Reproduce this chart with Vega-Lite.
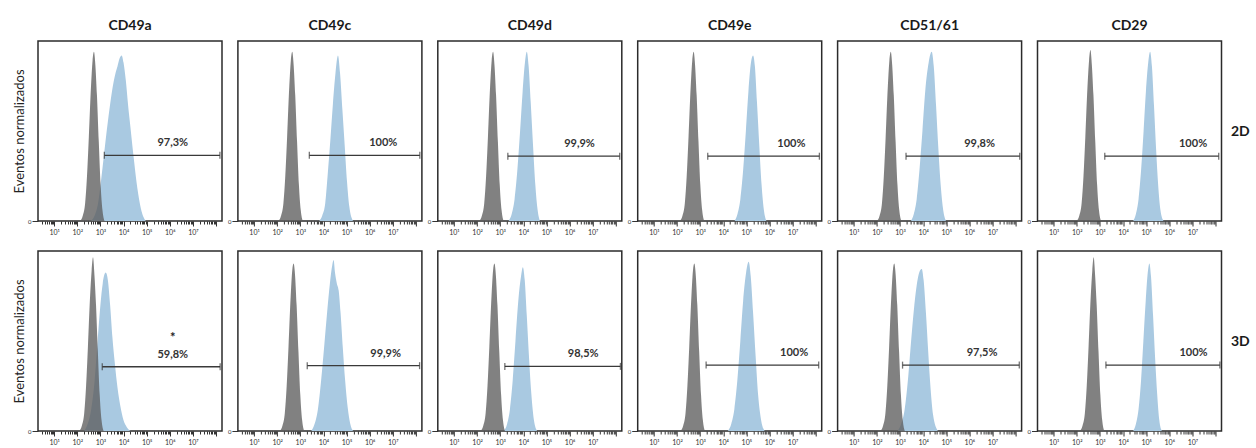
{
"$schema":"https://vega.github.io/schema/vega-lite/v6.json",
"background":"white",
"padding":{"left":12,"top":18,"right":5,"bottom":0},
"config":{
 "view":{"stroke":"#2b2b2b","strokeWidth":1.5},
 "axis":{"grid":false,"domain":false,"labelFont":"Lato","titleFont":"Lato","tickColor":"#333","labelColor":"#333","tickWidth":1},
 "axisX":{"labelFontSize":7,"labelPadding":2,"labelOverlap":false,"labelFlush":false,"labelBound":false},
 "axisY":{"labelFontSize":6,"labelPadding":1,"tickSize":6,"titleFontSize":13,"titleFontWeight":"normal","titleColor":"#222","titlePadding":1},
 "title":{"font":"Lato","fontSize":14,"fontWeight":"bold","color":"#1a1a1a"}
},
"data":{"values":[
{"m":"CD49a","c":"2D","s":"g","x":2.12,"y":0},{"m":"CD49a","c":"2D","s":"g","x":2.24,"y":3},{"m":"CD49a","c":"2D","s":"g","x":2.34,"y":10},{"m":"CD49a","c":"2D","s":"g","x":2.42,"y":25},{"m":"CD49a","c":"2D","s":"g","x":2.50,"y":47},{"m":"CD49a","c":"2D","s":"g","x":2.59,"y":74},{"m":"CD49a","c":"2D","s":"g","x":2.66,"y":89},{"m":"CD49a","c":"2D","s":"g","x":2.72,"y":94},{"m":"CD49a","c":"2D","s":"g","x":2.78,"y":87},{"m":"CD49a","c":"2D","s":"g","x":2.85,"y":70},{"m":"CD49a","c":"2D","s":"g","x":2.93,"y":44},{"m":"CD49a","c":"2D","s":"g","x":3.01,"y":20},{"m":"CD49a","c":"2D","s":"g","x":3.09,"y":6},{"m":"CD49a","c":"2D","s":"g","x":3.18,"y":0},
{"m":"CD49a","c":"2D","s":"b","x":2.57,"y":0},{"m":"CD49a","c":"2D","s":"b","x":2.75,"y":3},{"m":"CD49a","c":"2D","s":"b","x":2.9,"y":10},{"m":"CD49a","c":"2D","s":"b","x":3.05,"y":25},{"m":"CD49a","c":"2D","s":"b","x":3.2,"y":42},{"m":"CD49a","c":"2D","s":"b","x":3.35,"y":58},{"m":"CD49a","c":"2D","s":"b","x":3.5,"y":72},{"m":"CD49a","c":"2D","s":"b","x":3.65,"y":82},{"m":"CD49a","c":"2D","s":"b","x":3.74,"y":86},{"m":"CD49a","c":"2D","s":"b","x":3.82,"y":90},{"m":"CD49a","c":"2D","s":"b","x":3.92,"y":92},{"m":"CD49a","c":"2D","s":"b","x":4.0,"y":88},{"m":"CD49a","c":"2D","s":"b","x":4.1,"y":78},{"m":"CD49a","c":"2D","s":"b","x":4.2,"y":64},{"m":"CD49a","c":"2D","s":"b","x":4.3,"y":52},{"m":"CD49a","c":"2D","s":"b","x":4.45,"y":34},{"m":"CD49a","c":"2D","s":"b","x":4.6,"y":18},{"m":"CD49a","c":"2D","s":"b","x":4.75,"y":7},{"m":"CD49a","c":"2D","s":"b","x":4.96,"y":0},
{"m":"CD49a","c":"2D","s":"gate","x":3.17,"x2":8.17,"y":36.5},{"m":"CD49a","c":"2D","s":"cap","x":3.17,"y":36.5},{"m":"CD49a","c":"2D","s":"cap","x":8.17,"y":36.5},{"m":"CD49a","c":"2D","s":"lab","x":6.13,"y":36.5,"t":"97,3%"},

{"m":"CD49c","c":"2D","s":"g","x":2.05,"y":0},{"m":"CD49c","c":"2D","s":"g","x":2.17,"y":3},{"m":"CD49c","c":"2D","s":"g","x":2.27,"y":10},{"m":"CD49c","c":"2D","s":"g","x":2.35,"y":25},{"m":"CD49c","c":"2D","s":"g","x":2.43,"y":47},{"m":"CD49c","c":"2D","s":"g","x":2.52,"y":74},{"m":"CD49c","c":"2D","s":"g","x":2.59,"y":89},{"m":"CD49c","c":"2D","s":"g","x":2.65,"y":94},{"m":"CD49c","c":"2D","s":"g","x":2.71,"y":87},{"m":"CD49c","c":"2D","s":"g","x":2.78,"y":70},{"m":"CD49c","c":"2D","s":"g","x":2.86,"y":44},{"m":"CD49c","c":"2D","s":"g","x":2.94,"y":20},{"m":"CD49c","c":"2D","s":"g","x":3.02,"y":6},{"m":"CD49c","c":"2D","s":"g","x":3.11,"y":0},
{"m":"CD49c","c":"2D","s":"b","x":3.82,"y":0},{"m":"CD49c","c":"2D","s":"b","x":3.95,"y":3},{"m":"CD49c","c":"2D","s":"b","x":4.08,"y":10},{"m":"CD49c","c":"2D","s":"b","x":4.18,"y":25},{"m":"CD49c","c":"2D","s":"b","x":4.3,"y":45},{"m":"CD49c","c":"2D","s":"b","x":4.41,"y":65},{"m":"CD49c","c":"2D","s":"b","x":4.52,"y":82},{"m":"CD49c","c":"2D","s":"b","x":4.63,"y":92},{"m":"CD49c","c":"2D","s":"b","x":4.72,"y":82},{"m":"CD49c","c":"2D","s":"b","x":4.82,"y":62},{"m":"CD49c","c":"2D","s":"b","x":4.92,"y":42},{"m":"CD49c","c":"2D","s":"b","x":5.02,"y":22},{"m":"CD49c","c":"2D","s":"b","x":5.12,"y":8},{"m":"CD49c","c":"2D","s":"b","x":5.28,"y":0},
{"m":"CD49c","c":"2D","s":"gate","x":3.39,"x2":8.17,"y":36.5},{"m":"CD49c","c":"2D","s":"cap","x":3.39,"y":36.5},{"m":"CD49c","c":"2D","s":"cap","x":8.17,"y":36.5},{"m":"CD49c","c":"2D","s":"lab","x":6.59,"y":36.5,"t":"100%"},

{"m":"CD49d","c":"2D","s":"g","x":2.09,"y":0},{"m":"CD49d","c":"2D","s":"g","x":2.21,"y":3},{"m":"CD49d","c":"2D","s":"g","x":2.31,"y":10},{"m":"CD49d","c":"2D","s":"g","x":2.39,"y":25},{"m":"CD49d","c":"2D","s":"g","x":2.47,"y":47},{"m":"CD49d","c":"2D","s":"g","x":2.56,"y":74},{"m":"CD49d","c":"2D","s":"g","x":2.63,"y":89},{"m":"CD49d","c":"2D","s":"g","x":2.69,"y":94},{"m":"CD49d","c":"2D","s":"g","x":2.75,"y":87},{"m":"CD49d","c":"2D","s":"g","x":2.82,"y":70},{"m":"CD49d","c":"2D","s":"g","x":2.90,"y":44},{"m":"CD49d","c":"2D","s":"g","x":2.98,"y":20},{"m":"CD49d","c":"2D","s":"g","x":3.06,"y":6},{"m":"CD49d","c":"2D","s":"g","x":3.15,"y":0},
{"m":"CD49d","c":"2D","s":"b","x":3.36,"y":0},{"m":"CD49d","c":"2D","s":"b","x":3.5,"y":4},{"m":"CD49d","c":"2D","s":"b","x":3.62,"y":12},{"m":"CD49d","c":"2D","s":"b","x":3.74,"y":28},{"m":"CD49d","c":"2D","s":"b","x":3.86,"y":50},{"m":"CD49d","c":"2D","s":"b","x":3.97,"y":72},{"m":"CD49d","c":"2D","s":"b","x":4.07,"y":88},{"m":"CD49d","c":"2D","s":"b","x":4.15,"y":94},{"m":"CD49d","c":"2D","s":"b","x":4.23,"y":86},{"m":"CD49d","c":"2D","s":"b","x":4.32,"y":66},{"m":"CD49d","c":"2D","s":"b","x":4.42,"y":42},{"m":"CD49d","c":"2D","s":"b","x":4.52,"y":20},{"m":"CD49d","c":"2D","s":"b","x":4.62,"y":6},{"m":"CD49d","c":"2D","s":"b","x":4.72,"y":0},
{"m":"CD49d","c":"2D","s":"gate","x":3.33,"x2":8.17,"y":36},{"m":"CD49d","c":"2D","s":"cap","x":3.33,"y":36},{"m":"CD49d","c":"2D","s":"cap","x":8.17,"y":36},{"m":"CD49d","c":"2D","s":"lab","x":6.43,"y":36,"t":"99,9%"},

{"m":"CD49e","c":"2D","s":"g","x":2.12,"y":0},{"m":"CD49e","c":"2D","s":"g","x":2.24,"y":3},{"m":"CD49e","c":"2D","s":"g","x":2.34,"y":10},{"m":"CD49e","c":"2D","s":"g","x":2.42,"y":25},{"m":"CD49e","c":"2D","s":"g","x":2.50,"y":47},{"m":"CD49e","c":"2D","s":"g","x":2.59,"y":74},{"m":"CD49e","c":"2D","s":"g","x":2.66,"y":89},{"m":"CD49e","c":"2D","s":"g","x":2.72,"y":94},{"m":"CD49e","c":"2D","s":"g","x":2.78,"y":87},{"m":"CD49e","c":"2D","s":"g","x":2.85,"y":70},{"m":"CD49e","c":"2D","s":"g","x":2.93,"y":44},{"m":"CD49e","c":"2D","s":"g","x":3.01,"y":20},{"m":"CD49e","c":"2D","s":"g","x":3.09,"y":6},{"m":"CD49e","c":"2D","s":"g","x":3.18,"y":0},
{"m":"CD49e","c":"2D","s":"b","x":4.49,"y":0},{"m":"CD49e","c":"2D","s":"b","x":4.62,"y":4},{"m":"CD49e","c":"2D","s":"b","x":4.74,"y":12},{"m":"CD49e","c":"2D","s":"b","x":4.86,"y":28},{"m":"CD49e","c":"2D","s":"b","x":4.98,"y":50},{"m":"CD49e","c":"2D","s":"b","x":5.09,"y":72},{"m":"CD49e","c":"2D","s":"b","x":5.2,"y":88},{"m":"CD49e","c":"2D","s":"b","x":5.29,"y":92},{"m":"CD49e","c":"2D","s":"b","x":5.37,"y":86},{"m":"CD49e","c":"2D","s":"b","x":5.46,"y":66},{"m":"CD49e","c":"2D","s":"b","x":5.56,"y":42},{"m":"CD49e","c":"2D","s":"b","x":5.66,"y":20},{"m":"CD49e","c":"2D","s":"b","x":5.76,"y":6},{"m":"CD49e","c":"2D","s":"b","x":5.87,"y":0},
{"m":"CD49e","c":"2D","s":"gate","x":3.33,"x2":8.16,"y":36},{"m":"CD49e","c":"2D","s":"cap","x":3.33,"y":36},{"m":"CD49e","c":"2D","s":"cap","x":8.16,"y":36},{"m":"CD49e","c":"2D","s":"lab","x":6.95,"y":36,"t":"100%"},

{"m":"CD51/61","c":"2D","s":"g","x":2.00,"y":0},{"m":"CD51/61","c":"2D","s":"g","x":2.12,"y":3},{"m":"CD51/61","c":"2D","s":"g","x":2.22,"y":10},{"m":"CD51/61","c":"2D","s":"g","x":2.30,"y":25},{"m":"CD51/61","c":"2D","s":"g","x":2.38,"y":47},{"m":"CD51/61","c":"2D","s":"g","x":2.47,"y":74},{"m":"CD51/61","c":"2D","s":"g","x":2.54,"y":89},{"m":"CD51/61","c":"2D","s":"g","x":2.60,"y":94},{"m":"CD51/61","c":"2D","s":"g","x":2.66,"y":87},{"m":"CD51/61","c":"2D","s":"g","x":2.73,"y":70},{"m":"CD51/61","c":"2D","s":"g","x":2.81,"y":44},{"m":"CD51/61","c":"2D","s":"g","x":2.89,"y":20},{"m":"CD51/61","c":"2D","s":"g","x":2.97,"y":6},{"m":"CD51/61","c":"2D","s":"g","x":3.06,"y":0},
{"m":"CD51/61","c":"2D","s":"b","x":3.47,"y":0},{"m":"CD51/61","c":"2D","s":"b","x":3.6,"y":4},{"m":"CD51/61","c":"2D","s":"b","x":3.72,"y":12},{"m":"CD51/61","c":"2D","s":"b","x":3.84,"y":28},{"m":"CD51/61","c":"2D","s":"b","x":3.97,"y":50},{"m":"CD51/61","c":"2D","s":"b","x":4.09,"y":72},{"m":"CD51/61","c":"2D","s":"b","x":4.24,"y":88},{"m":"CD51/61","c":"2D","s":"b","x":4.37,"y":94},{"m":"CD51/61","c":"2D","s":"b","x":4.46,"y":86},{"m":"CD51/61","c":"2D","s":"b","x":4.56,"y":64},{"m":"CD51/61","c":"2D","s":"b","x":4.66,"y":40},{"m":"CD51/61","c":"2D","s":"b","x":4.76,"y":20},{"m":"CD51/61","c":"2D","s":"b","x":4.87,"y":6},{"m":"CD51/61","c":"2D","s":"b","x":4.99,"y":0},
{"m":"CD51/61","c":"2D","s":"gate","x":3.26,"x2":8.18,"y":36},{"m":"CD51/61","c":"2D","s":"cap","x":3.26,"y":36},{"m":"CD51/61","c":"2D","s":"cap","x":8.18,"y":36},{"m":"CD51/61","c":"2D","s":"lab","x":6.44,"y":36,"t":"99,8%"},

{"m":"CD29","c":"2D","s":"g","x":1.99,"y":0},{"m":"CD29","c":"2D","s":"g","x":2.11,"y":3},{"m":"CD29","c":"2D","s":"g","x":2.21,"y":10},{"m":"CD29","c":"2D","s":"g","x":2.29,"y":25},{"m":"CD29","c":"2D","s":"g","x":2.37,"y":47},{"m":"CD29","c":"2D","s":"g","x":2.46,"y":74},{"m":"CD29","c":"2D","s":"g","x":2.53,"y":89},{"m":"CD29","c":"2D","s":"g","x":2.59,"y":95},{"m":"CD29","c":"2D","s":"g","x":2.65,"y":87},{"m":"CD29","c":"2D","s":"g","x":2.72,"y":70},{"m":"CD29","c":"2D","s":"g","x":2.80,"y":44},{"m":"CD29","c":"2D","s":"g","x":2.88,"y":20},{"m":"CD29","c":"2D","s":"g","x":2.96,"y":6},{"m":"CD29","c":"2D","s":"g","x":3.05,"y":0},
{"m":"CD29","c":"2D","s":"b","x":4.44,"y":0},{"m":"CD29","c":"2D","s":"b","x":4.56,"y":4},{"m":"CD29","c":"2D","s":"b","x":4.67,"y":12},{"m":"CD29","c":"2D","s":"b","x":4.78,"y":28},{"m":"CD29","c":"2D","s":"b","x":4.89,"y":50},{"m":"CD29","c":"2D","s":"b","x":4.99,"y":72},{"m":"CD29","c":"2D","s":"b","x":5.09,"y":88},{"m":"CD29","c":"2D","s":"b","x":5.17,"y":94},{"m":"CD29","c":"2D","s":"b","x":5.25,"y":86},{"m":"CD29","c":"2D","s":"b","x":5.34,"y":64},{"m":"CD29","c":"2D","s":"b","x":5.43,"y":40},{"m":"CD29","c":"2D","s":"b","x":5.52,"y":20},{"m":"CD29","c":"2D","s":"b","x":5.62,"y":6},{"m":"CD29","c":"2D","s":"b","x":5.75,"y":0},
{"m":"CD29","c":"2D","s":"gate","x":3.21,"x2":8.14,"y":36},{"m":"CD29","c":"2D","s":"cap","x":3.21,"y":36},{"m":"CD29","c":"2D","s":"cap","x":8.14,"y":36},{"m":"CD29","c":"2D","s":"lab","x":7.03,"y":36,"t":"100%"},

{"m":"CD49a","c":"3D","s":"g","x":2.08,"y":0},{"m":"CD49a","c":"3D","s":"g","x":2.20,"y":3},{"m":"CD49a","c":"3D","s":"g","x":2.30,"y":10},{"m":"CD49a","c":"3D","s":"g","x":2.38,"y":25},{"m":"CD49a","c":"3D","s":"g","x":2.46,"y":47},{"m":"CD49a","c":"3D","s":"g","x":2.55,"y":74},{"m":"CD49a","c":"3D","s":"g","x":2.62,"y":89},{"m":"CD49a","c":"3D","s":"g","x":2.68,"y":96.5},{"m":"CD49a","c":"3D","s":"g","x":2.74,"y":87},{"m":"CD49a","c":"3D","s":"g","x":2.81,"y":70},{"m":"CD49a","c":"3D","s":"g","x":2.89,"y":44},{"m":"CD49a","c":"3D","s":"g","x":2.97,"y":20},{"m":"CD49a","c":"3D","s":"g","x":3.05,"y":6},{"m":"CD49a","c":"3D","s":"g","x":3.14,"y":0},
{"m":"CD49a","c":"3D","s":"b","x":2.29,"y":0},{"m":"CD49a","c":"3D","s":"b","x":2.45,"y":4},{"m":"CD49a","c":"3D","s":"b","x":2.6,"y":12},{"m":"CD49a","c":"3D","s":"b","x":2.75,"y":28},{"m":"CD49a","c":"3D","s":"b","x":2.88,"y":50},{"m":"CD49a","c":"3D","s":"b","x":3.0,"y":70},{"m":"CD49a","c":"3D","s":"b","x":3.1,"y":82},{"m":"CD49a","c":"3D","s":"b","x":3.23,"y":88},{"m":"CD49a","c":"3D","s":"b","x":3.32,"y":84},{"m":"CD49a","c":"3D","s":"b","x":3.42,"y":70},{"m":"CD49a","c":"3D","s":"b","x":3.52,"y":52},{"m":"CD49a","c":"3D","s":"b","x":3.62,"y":38},{"m":"CD49a","c":"3D","s":"b","x":3.74,"y":24},{"m":"CD49a","c":"3D","s":"b","x":3.86,"y":14},{"m":"CD49a","c":"3D","s":"b","x":4.0,"y":6},{"m":"CD49a","c":"3D","s":"b","x":4.15,"y":2},{"m":"CD49a","c":"3D","s":"b","x":4.31,"y":0},
{"m":"CD49a","c":"3D","s":"gate","x":3.08,"x2":8.18,"y":35.7},{"m":"CD49a","c":"3D","s":"cap","x":3.08,"y":35.7},{"m":"CD49a","c":"3D","s":"cap","x":8.18,"y":35.7},{"m":"CD49a","c":"3D","s":"lab","x":6.13,"y":35.7,"t":"59,8%"},{"m":"CD49a","c":"3D","s":"star","x":6.13,"y":53,"t":"*"},

{"m":"CD49c","c":"3D","s":"g","x":2.11,"y":0},{"m":"CD49c","c":"3D","s":"g","x":2.23,"y":3},{"m":"CD49c","c":"3D","s":"g","x":2.33,"y":10},{"m":"CD49c","c":"3D","s":"g","x":2.41,"y":25},{"m":"CD49c","c":"3D","s":"g","x":2.49,"y":47},{"m":"CD49c","c":"3D","s":"g","x":2.58,"y":74},{"m":"CD49c","c":"3D","s":"g","x":2.65,"y":89},{"m":"CD49c","c":"3D","s":"g","x":2.71,"y":93},{"m":"CD49c","c":"3D","s":"g","x":2.77,"y":87},{"m":"CD49c","c":"3D","s":"g","x":2.84,"y":70},{"m":"CD49c","c":"3D","s":"g","x":2.92,"y":44},{"m":"CD49c","c":"3D","s":"g","x":3.00,"y":20},{"m":"CD49c","c":"3D","s":"g","x":3.08,"y":6},{"m":"CD49c","c":"3D","s":"g","x":3.17,"y":0},
{"m":"CD49c","c":"3D","s":"b","x":3.47,"y":0},{"m":"CD49c","c":"3D","s":"b","x":3.62,"y":4},{"m":"CD49c","c":"3D","s":"b","x":3.76,"y":12},{"m":"CD49c","c":"3D","s":"b","x":3.9,"y":28},{"m":"CD49c","c":"3D","s":"b","x":4.04,"y":48},{"m":"CD49c","c":"3D","s":"b","x":4.16,"y":66},{"m":"CD49c","c":"3D","s":"b","x":4.28,"y":82},{"m":"CD49c","c":"3D","s":"b","x":4.38,"y":92},{"m":"CD49c","c":"3D","s":"b","x":4.44,"y":95},{"m":"CD49c","c":"3D","s":"b","x":4.5,"y":88},{"m":"CD49c","c":"3D","s":"b","x":4.58,"y":82},{"m":"CD49c","c":"3D","s":"b","x":4.66,"y":78},{"m":"CD49c","c":"3D","s":"b","x":4.74,"y":66},{"m":"CD49c","c":"3D","s":"b","x":4.84,"y":46},{"m":"CD49c","c":"3D","s":"b","x":4.94,"y":28},{"m":"CD49c","c":"3D","s":"b","x":5.05,"y":13},{"m":"CD49c","c":"3D","s":"b","x":5.16,"y":4},{"m":"CD49c","c":"3D","s":"b","x":5.28,"y":0},
{"m":"CD49c","c":"3D","s":"gate","x":3.30,"x2":8.16,"y":36.3},{"m":"CD49c","c":"3D","s":"cap","x":3.30,"y":36.3},{"m":"CD49c","c":"3D","s":"cap","x":8.16,"y":36.3},{"m":"CD49c","c":"3D","s":"lab","x":6.69,"y":36.3,"t":"99,9%"},

{"m":"CD49d","c":"3D","s":"g","x":2.15,"y":0},{"m":"CD49d","c":"3D","s":"g","x":2.27,"y":3},{"m":"CD49d","c":"3D","s":"g","x":2.37,"y":10},{"m":"CD49d","c":"3D","s":"g","x":2.45,"y":25},{"m":"CD49d","c":"3D","s":"g","x":2.53,"y":47},{"m":"CD49d","c":"3D","s":"g","x":2.62,"y":74},{"m":"CD49d","c":"3D","s":"g","x":2.69,"y":89},{"m":"CD49d","c":"3D","s":"g","x":2.75,"y":93},{"m":"CD49d","c":"3D","s":"g","x":2.81,"y":87},{"m":"CD49d","c":"3D","s":"g","x":2.88,"y":70},{"m":"CD49d","c":"3D","s":"g","x":2.96,"y":44},{"m":"CD49d","c":"3D","s":"g","x":3.04,"y":20},{"m":"CD49d","c":"3D","s":"g","x":3.12,"y":6},{"m":"CD49d","c":"3D","s":"g","x":3.21,"y":0},
{"m":"CD49d","c":"3D","s":"b","x":3.16,"y":0},{"m":"CD49d","c":"3D","s":"b","x":3.3,"y":4},{"m":"CD49d","c":"3D","s":"b","x":3.42,"y":12},{"m":"CD49d","c":"3D","s":"b","x":3.54,"y":28},{"m":"CD49d","c":"3D","s":"b","x":3.66,"y":50},{"m":"CD49d","c":"3D","s":"b","x":3.78,"y":72},{"m":"CD49d","c":"3D","s":"b","x":3.9,"y":86},{"m":"CD49d","c":"3D","s":"b","x":3.98,"y":91},{"m":"CD49d","c":"3D","s":"b","x":4.06,"y":84},{"m":"CD49d","c":"3D","s":"b","x":4.15,"y":64},{"m":"CD49d","c":"3D","s":"b","x":4.25,"y":40},{"m":"CD49d","c":"3D","s":"b","x":4.35,"y":20},{"m":"CD49d","c":"3D","s":"b","x":4.46,"y":6},{"m":"CD49d","c":"3D","s":"b","x":4.6,"y":0},
{"m":"CD49d","c":"3D","s":"gate","x":3.20,"x2":8.20,"y":35.9},{"m":"CD49d","c":"3D","s":"cap","x":3.20,"y":35.9},{"m":"CD49d","c":"3D","s":"cap","x":8.20,"y":35.9},{"m":"CD49d","c":"3D","s":"lab","x":6.59,"y":35.9,"t":"98,5%"},

{"m":"CD49e","c":"3D","s":"g","x":2.15,"y":0},{"m":"CD49e","c":"3D","s":"g","x":2.27,"y":3},{"m":"CD49e","c":"3D","s":"g","x":2.37,"y":10},{"m":"CD49e","c":"3D","s":"g","x":2.45,"y":25},{"m":"CD49e","c":"3D","s":"g","x":2.53,"y":47},{"m":"CD49e","c":"3D","s":"g","x":2.62,"y":74},{"m":"CD49e","c":"3D","s":"g","x":2.69,"y":89},{"m":"CD49e","c":"3D","s":"g","x":2.75,"y":93},{"m":"CD49e","c":"3D","s":"g","x":2.81,"y":87},{"m":"CD49e","c":"3D","s":"g","x":2.88,"y":70},{"m":"CD49e","c":"3D","s":"g","x":2.96,"y":44},{"m":"CD49e","c":"3D","s":"g","x":3.04,"y":20},{"m":"CD49e","c":"3D","s":"g","x":3.12,"y":6},{"m":"CD49e","c":"3D","s":"g","x":3.21,"y":0},
{"m":"CD49e","c":"3D","s":"b","x":4.2,"y":0},{"m":"CD49e","c":"3D","s":"b","x":4.35,"y":4},{"m":"CD49e","c":"3D","s":"b","x":4.48,"y":12},{"m":"CD49e","c":"3D","s":"b","x":4.61,"y":28},{"m":"CD49e","c":"3D","s":"b","x":4.74,"y":50},{"m":"CD49e","c":"3D","s":"b","x":4.86,"y":72},{"m":"CD49e","c":"3D","s":"b","x":4.99,"y":88},{"m":"CD49e","c":"3D","s":"b","x":5.1,"y":94},{"m":"CD49e","c":"3D","s":"b","x":5.19,"y":86},{"m":"CD49e","c":"3D","s":"b","x":5.29,"y":66},{"m":"CD49e","c":"3D","s":"b","x":5.4,"y":42},{"m":"CD49e","c":"3D","s":"b","x":5.51,"y":20},{"m":"CD49e","c":"3D","s":"b","x":5.64,"y":6},{"m":"CD49e","c":"3D","s":"b","x":5.79,"y":0},
{"m":"CD49e","c":"3D","s":"gate","x":3.26,"x2":8.13,"y":36.6},{"m":"CD49e","c":"3D","s":"cap","x":3.26,"y":36.6},{"m":"CD49e","c":"3D","s":"cap","x":8.13,"y":36.6},{"m":"CD49e","c":"3D","s":"lab","x":7.07,"y":36.6,"t":"100%"},

{"m":"CD51/61","c":"3D","s":"g","x":2.15,"y":0},{"m":"CD51/61","c":"3D","s":"g","x":2.27,"y":3},{"m":"CD51/61","c":"3D","s":"g","x":2.37,"y":10},{"m":"CD51/61","c":"3D","s":"g","x":2.45,"y":25},{"m":"CD51/61","c":"3D","s":"g","x":2.53,"y":47},{"m":"CD51/61","c":"3D","s":"g","x":2.62,"y":74},{"m":"CD51/61","c":"3D","s":"g","x":2.69,"y":89},{"m":"CD51/61","c":"3D","s":"g","x":2.75,"y":93},{"m":"CD51/61","c":"3D","s":"g","x":2.81,"y":87},{"m":"CD51/61","c":"3D","s":"g","x":2.88,"y":70},{"m":"CD51/61","c":"3D","s":"g","x":2.96,"y":44},{"m":"CD51/61","c":"3D","s":"g","x":3.04,"y":20},{"m":"CD51/61","c":"3D","s":"g","x":3.12,"y":6},{"m":"CD51/61","c":"3D","s":"g","x":3.21,"y":0},
{"m":"CD51/61","c":"3D","s":"b","x":2.9,"y":0},{"m":"CD51/61","c":"3D","s":"b","x":3.05,"y":4},{"m":"CD51/61","c":"3D","s":"b","x":3.2,"y":12},{"m":"CD51/61","c":"3D","s":"b","x":3.34,"y":28},{"m":"CD51/61","c":"3D","s":"b","x":3.48,"y":50},{"m":"CD51/61","c":"3D","s":"b","x":3.62,"y":70},{"m":"CD51/61","c":"3D","s":"b","x":3.76,"y":84},{"m":"CD51/61","c":"3D","s":"b","x":3.86,"y":89},{"m":"CD51/61","c":"3D","s":"b","x":3.94,"y":90},{"m":"CD51/61","c":"3D","s":"b","x":4.02,"y":84},{"m":"CD51/61","c":"3D","s":"b","x":4.12,"y":66},{"m":"CD51/61","c":"3D","s":"b","x":4.22,"y":44},{"m":"CD51/61","c":"3D","s":"b","x":4.32,"y":24},{"m":"CD51/61","c":"3D","s":"b","x":4.43,"y":9},{"m":"CD51/61","c":"3D","s":"b","x":4.64,"y":0},
{"m":"CD51/61","c":"3D","s":"gate","x":3.11,"x2":8.16,"y":36.6},{"m":"CD51/61","c":"3D","s":"cap","x":3.11,"y":36.6},{"m":"CD51/61","c":"3D","s":"cap","x":8.16,"y":36.6},{"m":"CD51/61","c":"3D","s":"lab","x":6.55,"y":36.6,"t":"97,5%"},

{"m":"CD29","c":"3D","s":"g","x":2.13,"y":0},{"m":"CD29","c":"3D","s":"g","x":2.25,"y":3},{"m":"CD29","c":"3D","s":"g","x":2.35,"y":10},{"m":"CD29","c":"3D","s":"g","x":2.43,"y":25},{"m":"CD29","c":"3D","s":"g","x":2.51,"y":47},{"m":"CD29","c":"3D","s":"g","x":2.60,"y":74},{"m":"CD29","c":"3D","s":"g","x":2.67,"y":89},{"m":"CD29","c":"3D","s":"g","x":2.73,"y":96.5},{"m":"CD29","c":"3D","s":"g","x":2.79,"y":87},{"m":"CD29","c":"3D","s":"g","x":2.86,"y":70},{"m":"CD29","c":"3D","s":"g","x":2.94,"y":44},{"m":"CD29","c":"3D","s":"g","x":3.02,"y":20},{"m":"CD29","c":"3D","s":"g","x":3.10,"y":6},{"m":"CD29","c":"3D","s":"g","x":3.19,"y":0},
{"m":"CD29","c":"3D","s":"b","x":4.44,"y":0},{"m":"CD29","c":"3D","s":"b","x":4.56,"y":4},{"m":"CD29","c":"3D","s":"b","x":4.67,"y":12},{"m":"CD29","c":"3D","s":"b","x":4.78,"y":28},{"m":"CD29","c":"3D","s":"b","x":4.88,"y":50},{"m":"CD29","c":"3D","s":"b","x":4.98,"y":72},{"m":"CD29","c":"3D","s":"b","x":5.07,"y":88},{"m":"CD29","c":"3D","s":"b","x":5.14,"y":93},{"m":"CD29","c":"3D","s":"b","x":5.21,"y":86},{"m":"CD29","c":"3D","s":"b","x":5.3,"y":64},{"m":"CD29","c":"3D","s":"b","x":5.39,"y":40},{"m":"CD29","c":"3D","s":"b","x":5.48,"y":20},{"m":"CD29","c":"3D","s":"b","x":5.57,"y":6},{"m":"CD29","c":"3D","s":"b","x":5.68,"y":0},
{"m":"CD29","c":"3D","s":"gate","x":3.26,"x2":8.19,"y":36.6},{"m":"CD29","c":"3D","s":"cap","x":3.26,"y":36.6},{"m":"CD29","c":"3D","s":"cap","x":8.19,"y":36.6},{"m":"CD29","c":"3D","s":"lab","x":7.05,"y":36.6,"t":"100%"}
]},
"spacing":14,
"vconcat":[
{"spacing":2.9,
 "hconcat":[
  {"width":184,"height":180,"title":{"text":"CD49a","offset":8},"transform":[{"filter":"datum.m==='CD49a'&&datum.c==='2D'"}],
   "encoding":{"x":{"field":"x","type":"quantitative","scale":{"domain":[0.3,8.26],"nice":false,"zero":false},"axis":{"title":null,"values":[0.477,0.602,0.699,0.778,0.845,0.903,0.954,1,1.301,1.477,1.602,1.699,1.778,1.845,1.903,1.954,2,2.301,2.477,2.602,2.699,2.778,2.845,2.903,2.954,3,3.301,3.477,3.602,3.699,3.778,3.845,3.903,3.954,4,4.301,4.477,4.602,4.699,4.778,4.845,4.903,4.954,5,5.301,5.477,5.602,5.699,5.778,5.845,5.903,5.954,6,6.301,6.477,6.602,6.699,6.778,6.845,6.903,6.954,7,7.301,7.477,7.602,7.699,7.778,7.845,7.903,7.954,8],"labelExpr":"(datum.value % 1 === 0 && datum.value >= 1 && datum.value <= 7) ? '10' + ['','¹','²','³','⁴','⁵','⁶','⁷'][datum.value] : ''","tickSize":{"condition":{"test":"datum.value % 1 === 0","value":5},"value":3}}},
    "y":{"field":"y","type":"quantitative","scale":{"domain":[0,100],"nice":false},"axis":{"values":[0],"title":"Eventos normalizados"}}},
   "layer":[
    {"transform":[{"filter":"datum.s==='b'"}],"mark":{"type":"area","interpolate":"monotone","color":"#a9c9e1"}},
    {"transform":[{"filter":"datum.s==='g'"}],"mark":{"type":"area","interpolate":"monotone","color":"#5e5e5e","opacity":0.78}},
    {"transform":[{"filter":"datum.s==='gate'"}],"mark":{"type":"rule","color":"#3a3a3a","strokeWidth":1.3},"encoding":{"x2":{"field":"x2"}}},
    {"transform":[{"filter":"datum.s==='cap'"}],"mark":{"type":"tick","orient":"vertical","size":7,"thickness":1.3,"color":"#3a3a3a"}},
    {"transform":[{"filter":"datum.s==='lab'"}],"mark":{"type":"text","dy":-12,"font":"Lato","fontSize":11,"fontWeight":"bold","color":"#333"},"encoding":{"text":{"field":"t"}}}
   ]},
  {"width":184,"height":180,"title":{"text":"CD49c","offset":8},"transform":[{"filter":"datum.m==='CD49c'&&datum.c==='2D'"}],
   "encoding":{"x":{"field":"x","type":"quantitative","scale":{"domain":[0.3,8.26],"nice":false,"zero":false},"axis":{"title":null,"values":[0.477,0.602,0.699,0.778,0.845,0.903,0.954,1,1.301,1.477,1.602,1.699,1.778,1.845,1.903,1.954,2,2.301,2.477,2.602,2.699,2.778,2.845,2.903,2.954,3,3.301,3.477,3.602,3.699,3.778,3.845,3.903,3.954,4,4.301,4.477,4.602,4.699,4.778,4.845,4.903,4.954,5,5.301,5.477,5.602,5.699,5.778,5.845,5.903,5.954,6,6.301,6.477,6.602,6.699,6.778,6.845,6.903,6.954,7,7.301,7.477,7.602,7.699,7.778,7.845,7.903,7.954,8],"labelExpr":"(datum.value % 1 === 0 && datum.value >= 1 && datum.value <= 7) ? '10' + ['','¹','²','³','⁴','⁵','⁶','⁷'][datum.value] : ''","tickSize":{"condition":{"test":"datum.value % 1 === 0","value":5},"value":3}}},
    "y":{"field":"y","type":"quantitative","scale":{"domain":[0,100],"nice":false},"axis":{"values":[0],"title":null}}},
   "layer":[
    {"transform":[{"filter":"datum.s==='b'"}],"mark":{"type":"area","interpolate":"monotone","color":"#a9c9e1"}},
    {"transform":[{"filter":"datum.s==='g'"}],"mark":{"type":"area","interpolate":"monotone","color":"#5e5e5e","opacity":0.78}},
    {"transform":[{"filter":"datum.s==='gate'"}],"mark":{"type":"rule","color":"#3a3a3a","strokeWidth":1.3},"encoding":{"x2":{"field":"x2"}}},
    {"transform":[{"filter":"datum.s==='cap'"}],"mark":{"type":"tick","orient":"vertical","size":7,"thickness":1.3,"color":"#3a3a3a"}},
    {"transform":[{"filter":"datum.s==='lab'"}],"mark":{"type":"text","dy":-12,"font":"Lato","fontSize":11,"fontWeight":"bold","color":"#333"},"encoding":{"text":{"field":"t"}}}
   ]},
  {"width":184,"height":180,"title":{"text":"CD49d","offset":8},"transform":[{"filter":"datum.m==='CD49d'&&datum.c==='2D'"}],
   "encoding":{"x":{"field":"x","type":"quantitative","scale":{"domain":[0.3,8.26],"nice":false,"zero":false},"axis":{"title":null,"values":[0.477,0.602,0.699,0.778,0.845,0.903,0.954,1,1.301,1.477,1.602,1.699,1.778,1.845,1.903,1.954,2,2.301,2.477,2.602,2.699,2.778,2.845,2.903,2.954,3,3.301,3.477,3.602,3.699,3.778,3.845,3.903,3.954,4,4.301,4.477,4.602,4.699,4.778,4.845,4.903,4.954,5,5.301,5.477,5.602,5.699,5.778,5.845,5.903,5.954,6,6.301,6.477,6.602,6.699,6.778,6.845,6.903,6.954,7,7.301,7.477,7.602,7.699,7.778,7.845,7.903,7.954,8],"labelExpr":"(datum.value % 1 === 0 && datum.value >= 1 && datum.value <= 7) ? '10' + ['','¹','²','³','⁴','⁵','⁶','⁷'][datum.value] : ''","tickSize":{"condition":{"test":"datum.value % 1 === 0","value":5},"value":3}}},
    "y":{"field":"y","type":"quantitative","scale":{"domain":[0,100],"nice":false},"axis":{"values":[0],"title":null}}},
   "layer":[
    {"transform":[{"filter":"datum.s==='b'"}],"mark":{"type":"area","interpolate":"monotone","color":"#a9c9e1"}},
    {"transform":[{"filter":"datum.s==='g'"}],"mark":{"type":"area","interpolate":"monotone","color":"#5e5e5e","opacity":0.78}},
    {"transform":[{"filter":"datum.s==='gate'"}],"mark":{"type":"rule","color":"#3a3a3a","strokeWidth":1.3},"encoding":{"x2":{"field":"x2"}}},
    {"transform":[{"filter":"datum.s==='cap'"}],"mark":{"type":"tick","orient":"vertical","size":7,"thickness":1.3,"color":"#3a3a3a"}},
    {"transform":[{"filter":"datum.s==='lab'"}],"mark":{"type":"text","dy":-12,"font":"Lato","fontSize":11,"fontWeight":"bold","color":"#333"},"encoding":{"text":{"field":"t"}}}
   ]},
  {"width":184,"height":180,"title":{"text":"CD49e","offset":8},"transform":[{"filter":"datum.m==='CD49e'&&datum.c==='2D'"}],
   "encoding":{"x":{"field":"x","type":"quantitative","scale":{"domain":[0.3,8.26],"nice":false,"zero":false},"axis":{"title":null,"values":[0.477,0.602,0.699,0.778,0.845,0.903,0.954,1,1.301,1.477,1.602,1.699,1.778,1.845,1.903,1.954,2,2.301,2.477,2.602,2.699,2.778,2.845,2.903,2.954,3,3.301,3.477,3.602,3.699,3.778,3.845,3.903,3.954,4,4.301,4.477,4.602,4.699,4.778,4.845,4.903,4.954,5,5.301,5.477,5.602,5.699,5.778,5.845,5.903,5.954,6,6.301,6.477,6.602,6.699,6.778,6.845,6.903,6.954,7,7.301,7.477,7.602,7.699,7.778,7.845,7.903,7.954,8],"labelExpr":"(datum.value % 1 === 0 && datum.value >= 1 && datum.value <= 7) ? '10' + ['','¹','²','³','⁴','⁵','⁶','⁷'][datum.value] : ''","tickSize":{"condition":{"test":"datum.value % 1 === 0","value":5},"value":3}}},
    "y":{"field":"y","type":"quantitative","scale":{"domain":[0,100],"nice":false},"axis":{"values":[0],"title":null}}},
   "layer":[
    {"transform":[{"filter":"datum.s==='b'"}],"mark":{"type":"area","interpolate":"monotone","color":"#a9c9e1"}},
    {"transform":[{"filter":"datum.s==='g'"}],"mark":{"type":"area","interpolate":"monotone","color":"#5e5e5e","opacity":0.78}},
    {"transform":[{"filter":"datum.s==='gate'"}],"mark":{"type":"rule","color":"#3a3a3a","strokeWidth":1.3},"encoding":{"x2":{"field":"x2"}}},
    {"transform":[{"filter":"datum.s==='cap'"}],"mark":{"type":"tick","orient":"vertical","size":7,"thickness":1.3,"color":"#3a3a3a"}},
    {"transform":[{"filter":"datum.s==='lab'"}],"mark":{"type":"text","dy":-12,"font":"Lato","fontSize":11,"fontWeight":"bold","color":"#333"},"encoding":{"text":{"field":"t"}}}
   ]},
  {"width":184,"height":180,"title":{"text":"CD51/61","offset":8},"transform":[{"filter":"datum.m==='CD51/61'&&datum.c==='2D'"}],
   "encoding":{"x":{"field":"x","type":"quantitative","scale":{"domain":[0.3,8.26],"nice":false,"zero":false},"axis":{"title":null,"values":[0.477,0.602,0.699,0.778,0.845,0.903,0.954,1,1.301,1.477,1.602,1.699,1.778,1.845,1.903,1.954,2,2.301,2.477,2.602,2.699,2.778,2.845,2.903,2.954,3,3.301,3.477,3.602,3.699,3.778,3.845,3.903,3.954,4,4.301,4.477,4.602,4.699,4.778,4.845,4.903,4.954,5,5.301,5.477,5.602,5.699,5.778,5.845,5.903,5.954,6,6.301,6.477,6.602,6.699,6.778,6.845,6.903,6.954,7,7.301,7.477,7.602,7.699,7.778,7.845,7.903,7.954,8],"labelExpr":"(datum.value % 1 === 0 && datum.value >= 1 && datum.value <= 7) ? '10' + ['','¹','²','³','⁴','⁵','⁶','⁷'][datum.value] : ''","tickSize":{"condition":{"test":"datum.value % 1 === 0","value":5},"value":3}}},
    "y":{"field":"y","type":"quantitative","scale":{"domain":[0,100],"nice":false},"axis":{"values":[0],"title":null}}},
   "layer":[
    {"transform":[{"filter":"datum.s==='b'"}],"mark":{"type":"area","interpolate":"monotone","color":"#a9c9e1"}},
    {"transform":[{"filter":"datum.s==='g'"}],"mark":{"type":"area","interpolate":"monotone","color":"#5e5e5e","opacity":0.78}},
    {"transform":[{"filter":"datum.s==='gate'"}],"mark":{"type":"rule","color":"#3a3a3a","strokeWidth":1.3},"encoding":{"x2":{"field":"x2"}}},
    {"transform":[{"filter":"datum.s==='cap'"}],"mark":{"type":"tick","orient":"vertical","size":7,"thickness":1.3,"color":"#3a3a3a"}},
    {"transform":[{"filter":"datum.s==='lab'"}],"mark":{"type":"text","dy":-12,"font":"Lato","fontSize":11,"fontWeight":"bold","color":"#333"},"encoding":{"text":{"field":"t"}}}
   ]},
  {"width":184,"height":180,"title":{"text":"CD29","offset":8},"transform":[{"filter":"datum.m==='CD29'&&datum.c==='2D'"}],
   "resolve":{"axis":{"y":"independent"}},
   "encoding":{"x":{"field":"x","type":"quantitative","scale":{"domain":[0.3,8.26],"nice":false,"zero":false},"axis":{"title":null,"values":[0.477,0.602,0.699,0.778,0.845,0.903,0.954,1,1.301,1.477,1.602,1.699,1.778,1.845,1.903,1.954,2,2.301,2.477,2.602,2.699,2.778,2.845,2.903,2.954,3,3.301,3.477,3.602,3.699,3.778,3.845,3.903,3.954,4,4.301,4.477,4.602,4.699,4.778,4.845,4.903,4.954,5,5.301,5.477,5.602,5.699,5.778,5.845,5.903,5.954,6,6.301,6.477,6.602,6.699,6.778,6.845,6.903,6.954,7,7.301,7.477,7.602,7.699,7.778,7.845,7.903,7.954,8],"labelExpr":"(datum.value % 1 === 0 && datum.value >= 1 && datum.value <= 7) ? '10' + ['','¹','²','³','⁴','⁵','⁶','⁷'][datum.value] : ''","tickSize":{"condition":{"test":"datum.value % 1 === 0","value":5},"value":3}}},
    "y":{"field":"y","type":"quantitative","scale":{"domain":[0,100],"nice":false},"axis":null}},
   "layer":[
    {"transform":[{"filter":"datum.s==='b'"}],"mark":{"type":"area","interpolate":"monotone","color":"#a9c9e1"},
     "encoding":{"y":{"field":"y","type":"quantitative","scale":{"domain":[0,100],"nice":false},"axis":{"values":[0],"title":null}}}},
    {"transform":[{"filter":"datum.s==='g'"}],"mark":{"type":"area","interpolate":"monotone","color":"#5e5e5e","opacity":0.78},
     "encoding":{"y":{"field":"y","type":"quantitative","scale":{"domain":[0,100],"nice":false},"axis":{"orient":"right","title":"2D","values":[],"ticks":false,"labels":false,"titleAngle":0,"titleAlign":"left","titleBaseline":"middle","titlePadding":9,"titleFontSize":14,"titleFontWeight":"bold","titleColor":"#1a1a1a"}}}},
    {"transform":[{"filter":"datum.s==='gate'"}],"mark":{"type":"rule","color":"#3a3a3a","strokeWidth":1.3},"encoding":{"x2":{"field":"x2"}}},
    {"transform":[{"filter":"datum.s==='cap'"}],"mark":{"type":"tick","orient":"vertical","size":7,"thickness":1.3,"color":"#3a3a3a"}},
    {"transform":[{"filter":"datum.s==='lab'"}],"mark":{"type":"text","dy":-12,"font":"Lato","fontSize":11,"fontWeight":"bold","color":"#333"},"encoding":{"text":{"field":"t"}}}
   ]}
 ]},
{"spacing":2.9,
 "hconcat":[
  {"width":184,"height":180,"transform":[{"filter":"datum.m==='CD49a'&&datum.c==='3D'"}],
   "encoding":{"x":{"field":"x","type":"quantitative","scale":{"domain":[0.3,8.26],"nice":false,"zero":false},"axis":{"title":null,"values":[0.477,0.602,0.699,0.778,0.845,0.903,0.954,1,1.301,1.477,1.602,1.699,1.778,1.845,1.903,1.954,2,2.301,2.477,2.602,2.699,2.778,2.845,2.903,2.954,3,3.301,3.477,3.602,3.699,3.778,3.845,3.903,3.954,4,4.301,4.477,4.602,4.699,4.778,4.845,4.903,4.954,5,5.301,5.477,5.602,5.699,5.778,5.845,5.903,5.954,6,6.301,6.477,6.602,6.699,6.778,6.845,6.903,6.954,7,7.301,7.477,7.602,7.699,7.778,7.845,7.903,7.954,8],"labelExpr":"(datum.value % 1 === 0 && datum.value >= 1 && datum.value <= 7) ? '10' + ['','¹','²','³','⁴','⁵','⁶','⁷'][datum.value] : ''","tickSize":{"condition":{"test":"datum.value % 1 === 0","value":5},"value":3}}},
    "y":{"field":"y","type":"quantitative","scale":{"domain":[0,100],"nice":false},"axis":{"values":[0],"title":"Eventos normalizados"}}},
   "layer":[
    {"transform":[{"filter":"datum.s==='b'"}],"mark":{"type":"area","interpolate":"monotone","color":"#a9c9e1"}},
    {"transform":[{"filter":"datum.s==='g'"}],"mark":{"type":"area","interpolate":"monotone","color":"#5e5e5e","opacity":0.78}},
    {"transform":[{"filter":"datum.s==='gate'"}],"mark":{"type":"rule","color":"#3a3a3a","strokeWidth":1.3},"encoding":{"x2":{"field":"x2"}}},
    {"transform":[{"filter":"datum.s==='cap'"}],"mark":{"type":"tick","orient":"vertical","size":7,"thickness":1.3,"color":"#3a3a3a"}},
    {"transform":[{"filter":"datum.s==='lab'"}],"mark":{"type":"text","dy":-12,"font":"Lato","fontSize":11,"fontWeight":"bold","color":"#333"},"encoding":{"text":{"field":"t"}}},
    {"transform":[{"filter":"datum.s==='star'"}],"mark":{"type":"text","dy":2,"font":"Lato","fontSize":13,"fontWeight":"bold","color":"#222"},"encoding":{"text":{"field":"t"}}}
   ]},
  {"width":184,"height":180,"transform":[{"filter":"datum.m==='CD49c'&&datum.c==='3D'"}],
   "encoding":{"x":{"field":"x","type":"quantitative","scale":{"domain":[0.3,8.26],"nice":false,"zero":false},"axis":{"title":null,"values":[0.477,0.602,0.699,0.778,0.845,0.903,0.954,1,1.301,1.477,1.602,1.699,1.778,1.845,1.903,1.954,2,2.301,2.477,2.602,2.699,2.778,2.845,2.903,2.954,3,3.301,3.477,3.602,3.699,3.778,3.845,3.903,3.954,4,4.301,4.477,4.602,4.699,4.778,4.845,4.903,4.954,5,5.301,5.477,5.602,5.699,5.778,5.845,5.903,5.954,6,6.301,6.477,6.602,6.699,6.778,6.845,6.903,6.954,7,7.301,7.477,7.602,7.699,7.778,7.845,7.903,7.954,8],"labelExpr":"(datum.value % 1 === 0 && datum.value >= 1 && datum.value <= 7) ? '10' + ['','¹','²','³','⁴','⁵','⁶','⁷'][datum.value] : ''","tickSize":{"condition":{"test":"datum.value % 1 === 0","value":5},"value":3}}},
    "y":{"field":"y","type":"quantitative","scale":{"domain":[0,100],"nice":false},"axis":{"values":[0],"title":null}}},
   "layer":[
    {"transform":[{"filter":"datum.s==='b'"}],"mark":{"type":"area","interpolate":"monotone","color":"#a9c9e1"}},
    {"transform":[{"filter":"datum.s==='g'"}],"mark":{"type":"area","interpolate":"monotone","color":"#5e5e5e","opacity":0.78}},
    {"transform":[{"filter":"datum.s==='gate'"}],"mark":{"type":"rule","color":"#3a3a3a","strokeWidth":1.3},"encoding":{"x2":{"field":"x2"}}},
    {"transform":[{"filter":"datum.s==='cap'"}],"mark":{"type":"tick","orient":"vertical","size":7,"thickness":1.3,"color":"#3a3a3a"}},
    {"transform":[{"filter":"datum.s==='lab'"}],"mark":{"type":"text","dy":-12,"font":"Lato","fontSize":11,"fontWeight":"bold","color":"#333"},"encoding":{"text":{"field":"t"}}}
   ]},
  {"width":184,"height":180,"transform":[{"filter":"datum.m==='CD49d'&&datum.c==='3D'"}],
   "encoding":{"x":{"field":"x","type":"quantitative","scale":{"domain":[0.3,8.26],"nice":false,"zero":false},"axis":{"title":null,"values":[0.477,0.602,0.699,0.778,0.845,0.903,0.954,1,1.301,1.477,1.602,1.699,1.778,1.845,1.903,1.954,2,2.301,2.477,2.602,2.699,2.778,2.845,2.903,2.954,3,3.301,3.477,3.602,3.699,3.778,3.845,3.903,3.954,4,4.301,4.477,4.602,4.699,4.778,4.845,4.903,4.954,5,5.301,5.477,5.602,5.699,5.778,5.845,5.903,5.954,6,6.301,6.477,6.602,6.699,6.778,6.845,6.903,6.954,7,7.301,7.477,7.602,7.699,7.778,7.845,7.903,7.954,8],"labelExpr":"(datum.value % 1 === 0 && datum.value >= 1 && datum.value <= 7) ? '10' + ['','¹','²','³','⁴','⁵','⁶','⁷'][datum.value] : ''","tickSize":{"condition":{"test":"datum.value % 1 === 0","value":5},"value":3}}},
    "y":{"field":"y","type":"quantitative","scale":{"domain":[0,100],"nice":false},"axis":{"values":[0],"title":null}}},
   "layer":[
    {"transform":[{"filter":"datum.s==='b'"}],"mark":{"type":"area","interpolate":"monotone","color":"#a9c9e1"}},
    {"transform":[{"filter":"datum.s==='g'"}],"mark":{"type":"area","interpolate":"monotone","color":"#5e5e5e","opacity":0.78}},
    {"transform":[{"filter":"datum.s==='gate'"}],"mark":{"type":"rule","color":"#3a3a3a","strokeWidth":1.3},"encoding":{"x2":{"field":"x2"}}},
    {"transform":[{"filter":"datum.s==='cap'"}],"mark":{"type":"tick","orient":"vertical","size":7,"thickness":1.3,"color":"#3a3a3a"}},
    {"transform":[{"filter":"datum.s==='lab'"}],"mark":{"type":"text","dy":-12,"font":"Lato","fontSize":11,"fontWeight":"bold","color":"#333"},"encoding":{"text":{"field":"t"}}}
   ]},
  {"width":184,"height":180,"transform":[{"filter":"datum.m==='CD49e'&&datum.c==='3D'"}],
   "encoding":{"x":{"field":"x","type":"quantitative","scale":{"domain":[0.3,8.26],"nice":false,"zero":false},"axis":{"title":null,"values":[0.477,0.602,0.699,0.778,0.845,0.903,0.954,1,1.301,1.477,1.602,1.699,1.778,1.845,1.903,1.954,2,2.301,2.477,2.602,2.699,2.778,2.845,2.903,2.954,3,3.301,3.477,3.602,3.699,3.778,3.845,3.903,3.954,4,4.301,4.477,4.602,4.699,4.778,4.845,4.903,4.954,5,5.301,5.477,5.602,5.699,5.778,5.845,5.903,5.954,6,6.301,6.477,6.602,6.699,6.778,6.845,6.903,6.954,7,7.301,7.477,7.602,7.699,7.778,7.845,7.903,7.954,8],"labelExpr":"(datum.value % 1 === 0 && datum.value >= 1 && datum.value <= 7) ? '10' + ['','¹','²','³','⁴','⁵','⁶','⁷'][datum.value] : ''","tickSize":{"condition":{"test":"datum.value % 1 === 0","value":5},"value":3}}},
    "y":{"field":"y","type":"quantitative","scale":{"domain":[0,100],"nice":false},"axis":{"values":[0],"title":null}}},
   "layer":[
    {"transform":[{"filter":"datum.s==='b'"}],"mark":{"type":"area","interpolate":"monotone","color":"#a9c9e1"}},
    {"transform":[{"filter":"datum.s==='g'"}],"mark":{"type":"area","interpolate":"monotone","color":"#5e5e5e","opacity":0.78}},
    {"transform":[{"filter":"datum.s==='gate'"}],"mark":{"type":"rule","color":"#3a3a3a","strokeWidth":1.3},"encoding":{"x2":{"field":"x2"}}},
    {"transform":[{"filter":"datum.s==='cap'"}],"mark":{"type":"tick","orient":"vertical","size":7,"thickness":1.3,"color":"#3a3a3a"}},
    {"transform":[{"filter":"datum.s==='lab'"}],"mark":{"type":"text","dy":-12,"font":"Lato","fontSize":11,"fontWeight":"bold","color":"#333"},"encoding":{"text":{"field":"t"}}}
   ]},
  {"width":184,"height":180,"transform":[{"filter":"datum.m==='CD51/61'&&datum.c==='3D'"}],
   "encoding":{"x":{"field":"x","type":"quantitative","scale":{"domain":[0.3,8.26],"nice":false,"zero":false},"axis":{"title":null,"values":[0.477,0.602,0.699,0.778,0.845,0.903,0.954,1,1.301,1.477,1.602,1.699,1.778,1.845,1.903,1.954,2,2.301,2.477,2.602,2.699,2.778,2.845,2.903,2.954,3,3.301,3.477,3.602,3.699,3.778,3.845,3.903,3.954,4,4.301,4.477,4.602,4.699,4.778,4.845,4.903,4.954,5,5.301,5.477,5.602,5.699,5.778,5.845,5.903,5.954,6,6.301,6.477,6.602,6.699,6.778,6.845,6.903,6.954,7,7.301,7.477,7.602,7.699,7.778,7.845,7.903,7.954,8],"labelExpr":"(datum.value % 1 === 0 && datum.value >= 1 && datum.value <= 7) ? '10' + ['','¹','²','³','⁴','⁵','⁶','⁷'][datum.value] : ''","tickSize":{"condition":{"test":"datum.value % 1 === 0","value":5},"value":3}}},
    "y":{"field":"y","type":"quantitative","scale":{"domain":[0,100],"nice":false},"axis":{"values":[0],"title":null}}},
   "layer":[
    {"transform":[{"filter":"datum.s==='b'"}],"mark":{"type":"area","interpolate":"monotone","color":"#a9c9e1"}},
    {"transform":[{"filter":"datum.s==='g'"}],"mark":{"type":"area","interpolate":"monotone","color":"#5e5e5e","opacity":0.78}},
    {"transform":[{"filter":"datum.s==='gate'"}],"mark":{"type":"rule","color":"#3a3a3a","strokeWidth":1.3},"encoding":{"x2":{"field":"x2"}}},
    {"transform":[{"filter":"datum.s==='cap'"}],"mark":{"type":"tick","orient":"vertical","size":7,"thickness":1.3,"color":"#3a3a3a"}},
    {"transform":[{"filter":"datum.s==='lab'"}],"mark":{"type":"text","dy":-12,"font":"Lato","fontSize":11,"fontWeight":"bold","color":"#333"},"encoding":{"text":{"field":"t"}}}
   ]},
  {"width":184,"height":180,"transform":[{"filter":"datum.m==='CD29'&&datum.c==='3D'"}],
   "resolve":{"axis":{"y":"independent"}},
   "encoding":{"x":{"field":"x","type":"quantitative","scale":{"domain":[0.3,8.26],"nice":false,"zero":false},"axis":{"title":null,"values":[0.477,0.602,0.699,0.778,0.845,0.903,0.954,1,1.301,1.477,1.602,1.699,1.778,1.845,1.903,1.954,2,2.301,2.477,2.602,2.699,2.778,2.845,2.903,2.954,3,3.301,3.477,3.602,3.699,3.778,3.845,3.903,3.954,4,4.301,4.477,4.602,4.699,4.778,4.845,4.903,4.954,5,5.301,5.477,5.602,5.699,5.778,5.845,5.903,5.954,6,6.301,6.477,6.602,6.699,6.778,6.845,6.903,6.954,7,7.301,7.477,7.602,7.699,7.778,7.845,7.903,7.954,8],"labelExpr":"(datum.value % 1 === 0 && datum.value >= 1 && datum.value <= 7) ? '10' + ['','¹','²','³','⁴','⁵','⁶','⁷'][datum.value] : ''","tickSize":{"condition":{"test":"datum.value % 1 === 0","value":5},"value":3}}},
    "y":{"field":"y","type":"quantitative","scale":{"domain":[0,100],"nice":false},"axis":null}},
   "layer":[
    {"transform":[{"filter":"datum.s==='b'"}],"mark":{"type":"area","interpolate":"monotone","color":"#a9c9e1"},
     "encoding":{"y":{"field":"y","type":"quantitative","scale":{"domain":[0,100],"nice":false},"axis":{"values":[0],"title":null}}}},
    {"transform":[{"filter":"datum.s==='g'"}],"mark":{"type":"area","interpolate":"monotone","color":"#5e5e5e","opacity":0.78},
     "encoding":{"y":{"field":"y","type":"quantitative","scale":{"domain":[0,100],"nice":false},"axis":{"orient":"right","title":"3D","values":[],"ticks":false,"labels":false,"titleAngle":0,"titleAlign":"left","titleBaseline":"middle","titlePadding":9,"titleFontSize":14,"titleFontWeight":"bold","titleColor":"#1a1a1a"}}}},
    {"transform":[{"filter":"datum.s==='gate'"}],"mark":{"type":"rule","color":"#3a3a3a","strokeWidth":1.3},"encoding":{"x2":{"field":"x2"}}},
    {"transform":[{"filter":"datum.s==='cap'"}],"mark":{"type":"tick","orient":"vertical","size":7,"thickness":1.3,"color":"#3a3a3a"}},
    {"transform":[{"filter":"datum.s==='lab'"}],"mark":{"type":"text","dy":-12,"font":"Lato","fontSize":11,"fontWeight":"bold","color":"#333"},"encoding":{"text":{"field":"t"}}}
   ]}
 ]}
]
}
